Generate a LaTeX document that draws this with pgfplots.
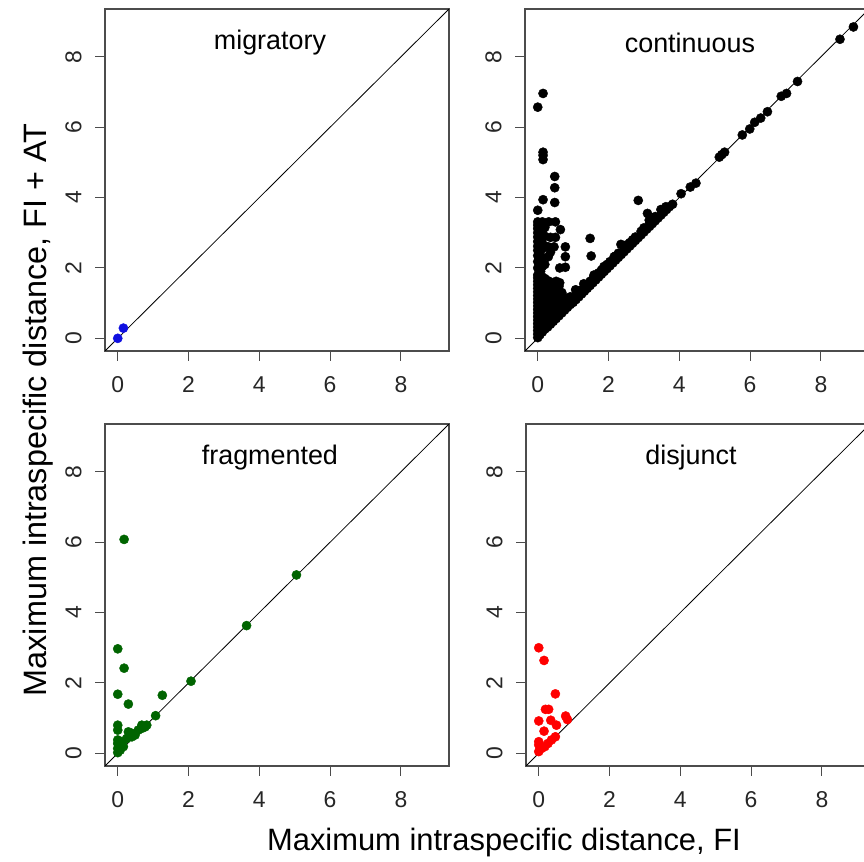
\documentclass[border=0pt]{standalone}
\usepackage{fontspec}
\setmainfont{Liberation Sans}
\usepackage{pgfplots}
\pgfplotsset{compat=1.18}

\definecolor{rblue}{HTML}{1010E0}
\definecolor{rgreen}{HTML}{006400}
\definecolor{rred}{HTML}{FF0000}

\pgfplotsset{
  panel/.style={
    scale only axis, width=344bp, height=342bp, anchor=south west,
    xmin=-0.36, xmax=9.36, ymin=-0.36, ymax=9.36,
    xtick={0,2,4,6,8}, ytick={0,2,4,6,8},
    xtick pos=bottom, ytick pos=left,
    tick align=outside, major tick length=10bp,
    axis line style={black!70, line width=1.1bp},
    tick style={black!70, line width=1bp},
    ticklabel style={font=\fontsize{23}{25}\selectfont, text=black!85},
    yticklabel style={rotate=90, anchor=south},
    xticklabel shift=12bp, yticklabel shift=10bp,
    /pgf/number format/assume math mode=true,
    clip=true,
  },
  pts/.style={only marks, mark=*, mark size=4.6bp, mark options={draw=#1, fill=#1}},
}
\newcommand{\diag}{\addplot[black, line width=0.8bp] coordinates {(-0.36,-0.36) (9.36,9.36)};}
\newcommand{\ptitle}[1]{\node[font=\fontsize{27}{29}\selectfont] at (axis cs:4.3,8.4) {#1};}

\begin{document}
\begin{tikzpicture}
\useasboundingbox (0,0) rectangle (864bp,862bp);

% migratory
\begin{axis}[panel, at={(105bp,511bp)}]
\diag
\addplot[pts=rblue] coordinates {(0,0) (0.16,0.29)};
\ptitle{migratory}
\end{axis}

% continuous
\begin{axis}[panel, at={(525bp,511bp)}]
\diag
\addplot[pts=black] coordinates {
(0,0.02) (0,0.12) (0,0.22) (0,0.32) (0,0.42) (0,0.52) (0,0.62) (0,0.72) (0,0.82) (0,0.92)
(0,1.02) (0,1.12) (0,1.22) (0,1.32) (0,1.42) (0,1.52) (0,1.62) (0,1.72) (0,1.80) (0,2.00)
(0,2.18) (0,2.35) (0,2.50) (0,2.62) (0,2.75) (0,2.88) (0,3.00) (0,3.12) (0,3.22) (0,3.31)
(0,3.64) (0,6.57)
(0.06,0.10) (0.06,0.22) (0.06,0.34) (0.06,0.46) (0.06,0.58) (0.06,0.70) (0.06,0.82) (0.06,0.94)
(0.06,1.06) (0.06,1.18) (0.06,1.30) (0.06,1.42) (0.06,1.54) (0.06,1.66) (0.06,1.76) (0.06,2.45)
(0.06,2.95) (0.08,1.90) (0.10,2.20)
(0.13,0.18) (0.13,0.30) (0.13,0.42) (0.13,0.54) (0.13,0.66) (0.13,0.78) (0.13,0.90) (0.13,1.02)
(0.13,1.14) (0.13,1.26) (0.13,1.38) (0.13,1.50) (0.13,1.62) (0.13,1.74) (0.13,2.04) (0.13,2.30)
(0.13,2.55) (0.13,2.70) (0.13,2.85) (0.13,3.05) (0.13,3.20) (0.13,3.31) (0.15,3.94) (0.15,5.08)
(0.15,5.20) (0.15,5.29) (0.15,6.96)
(0.20,0.26) (0.20,0.38) (0.20,0.50) (0.20,0.62) (0.20,0.74) (0.20,0.86) (0.20,0.98) (0.20,1.10)
(0.20,1.22) (0.20,1.34) (0.20,1.46) (0.20,1.58) (0.20,1.70) (0.20,2.10) (0.20,2.62) (0.20,2.90)
(0.20,3.15)
(0.28,0.32) (0.28,0.44) (0.28,0.56) (0.28,0.68) (0.28,0.80) (0.28,0.92) (0.28,1.04) (0.28,1.16)
(0.28,1.28) (0.28,1.40) (0.28,1.52) (0.28,1.64) (0.30,2.32) (0.30,2.60) (0.31,3.31)
(0.36,0.40) (0.36,0.52) (0.36,0.64) (0.36,0.76) (0.36,0.88) (0.36,1.00) (0.36,1.12) (0.36,1.24)
(0.36,1.36) (0.36,1.48) (0.36,1.60) (0.36,2.45) (0.36,2.87)
(0.44,0.48) (0.44,0.60) (0.44,0.72) (0.44,0.84) (0.44,0.96) (0.44,1.08) (0.44,1.20) (0.44,1.32)
(0.44,1.44) (0.44,1.56) (0.46,2.60) (0.50,2.87) (0.48,3.86) (0.48,4.28) (0.48,4.60) (0.50,3.31)
(0.52,0.56) (0.52,0.68) (0.52,0.80) (0.52,0.92) (0.52,1.04) (0.52,1.16) (0.52,1.28) (0.52,1.40)
(0.52,1.52) (0.52,1.62)
(0.60,0.64) (0.60,0.76) (0.60,0.88) (0.60,1.00) (0.60,1.12) (0.60,1.24) (0.60,1.36) (0.60,1.48)
(0.62,1.58) (0.64,3.09) (0.62,2.00)
(0.68,0.72) (0.68,0.84) (0.68,0.96) (0.68,1.08) (0.68,1.20) (0.68,1.30)
(0.76,0.80) (0.76,0.92) (0.76,1.04) (0.76,1.16) (0.78,2.02) (0.78,2.32) (0.78,2.60)
(0.84,0.88) (0.84,1.00) (0.84,1.12) (0.92,0.96) (0.92,1.08) (0.92,1.18)
(1.00,1.02) (1.00,1.14) (1.07,1.38) (1.08,1.10) (1.08,1.22) (1.16,1.18) (1.16,1.30) (1.24,1.26)
(1.24,1.38) (1.30,1.55) (1.32,1.34) (1.32,1.46) (1.40,1.42) (1.40,1.54) (1.48,1.50) (1.48,1.62)
(1.48,2.84) (1.51,2.34) (1.56,1.58) (1.56,1.70) (1.59,1.80) (1.64,1.66) (1.64,1.78) (1.72,1.74)
(1.72,1.86) (1.80,1.82) (1.80,1.94) (1.87,2.04) (1.88,1.90) (1.96,1.98) (1.96,2.10) (2.04,2.06)
(2.04,2.18) (2.12,2.14) (2.16,2.32) (2.20,2.22) (2.20,2.34) (2.28,2.30) (2.28,2.42) (2.35,2.67)
(2.36,2.38) (2.44,2.46) (2.44,2.58) (2.52,2.54) (2.52,2.66) (2.60,2.62) (2.60,2.72) (2.68,2.70)
(2.68,2.80) (2.76,2.78) (2.76,2.88) (2.84,2.86) (2.84,3.92) (2.92,2.94) (2.92,3.04) (3.00,3.02)
(3.00,3.14) (3.08,3.10) (3.10,3.55) (3.15,3.36) (3.16,3.18) (3.16,3.28) (3.24,3.26) (3.24,3.38)
(3.32,3.34) (3.32,3.46) (3.40,3.42) (3.48,3.66) (3.48,3.50) (3.56,3.58) (3.62,3.74) (3.64,3.66)
(3.72,3.74) (3.81,3.81)
(4.05,4.11) (4.31,4.30) (4.47,4.41) (5.13,5.15) (5.20,5.22) (5.28,5.29) (5.78,5.78) (5.99,5.95)
(6.13,6.14) (6.30,6.26) (6.49,6.44) (6.88,6.88) (7.03,6.96) (7.34,7.30) (8.54,8.50) (8.92,8.85)
};
\ptitle{continuous}
\end{axis}

% fragmented
\begin{axis}[panel, at={(105bp,96bp)}]
\diag
\addplot[pts=rgreen] coordinates {
(0.18,6.08) (5.05,5.07) (3.64,3.63) (2.07,2.05) (0,2.97) (0.18,2.42) (0,1.68) (1.26,1.65)
(0.30,1.40) (1.07,1.07) (0,0.80) (0,0.66) (0.68,0.80) (0.82,0.80) (0.30,0.61) (0.58,0.66)
(0.49,0.52) (0.40,0.57) (0.25,0.42) (0.11,0.33) (0,0.28) (0,0.14) (0.07,0.09) (0,0.02)
(0.16,0.19) (0,0.38) (0.10,0.24) (0.68,0.71) (0.77,0.75) (0.40,0.47)
};
\ptitle{fragmented}
\end{axis}

% disjunct
\begin{axis}[panel, at={(526bp,96bp)}]
\diag
\addplot[pts=rred] coordinates {
(0,3.00) (0.15,2.64) (0.47,1.69) (0.19,1.25) (0.28,1.25) (0,0.92) (0.34,0.94) (0.76,1.06)
(0.81,0.96) (0.50,0.80) (0.15,0.63) (0.47,0.47) (0.36,0.38) (0,0.33) (0,0.24) (0.08,0.14)
(0,0.05) (0.17,0.19) (0.26,0.28)
};
\ptitle{disjunct}
\end{axis}

\node[font=\fontsize{31}{33}\selectfont] at (504bp,19bp) {Maximum intraspecific distance, FI};
\node[font=\fontsize{32.5}{34}\selectfont, rotate=90] at (38bp,452bp) {Maximum intraspecific distance, FI + AT};
\end{tikzpicture}
\end{document}
